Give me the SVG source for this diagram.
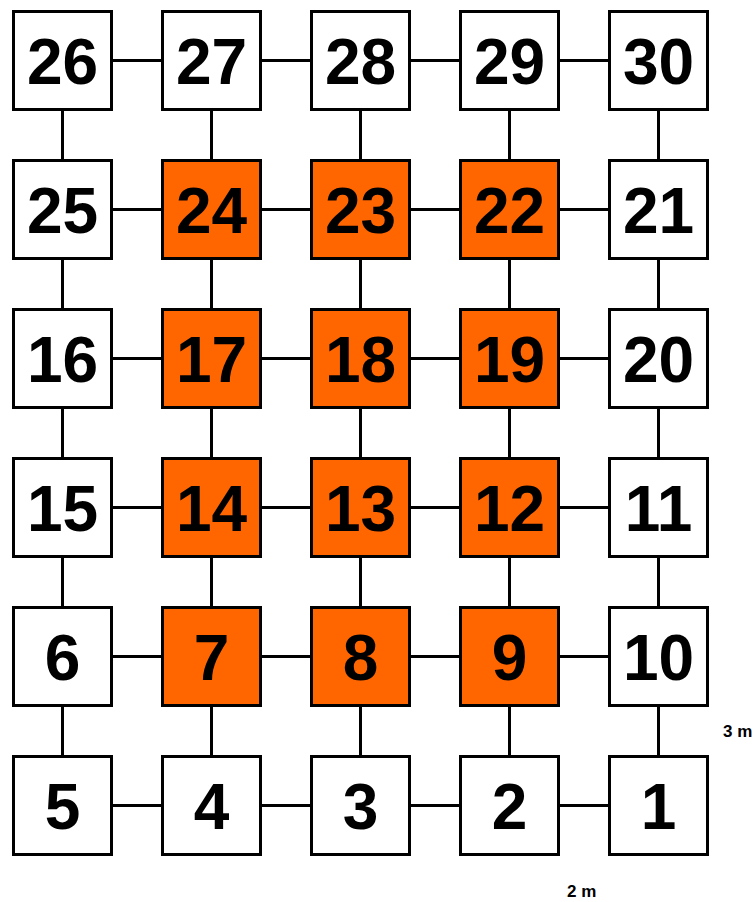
<svg xmlns="http://www.w3.org/2000/svg" width="756" height="902" viewBox="0 0 756 902">
<style>
.b{stroke:#000;stroke-width:3;fill:#fff}
.o{fill:#FF6600}
.t{font-family:"Liberation Sans",Arial,sans-serif;font-weight:bold;font-size:64px;text-anchor:middle;fill:#000}
.s{font-family:"Liberation Sans",Arial,sans-serif;font-weight:bold;font-size:17px;fill:#000}
.c line{stroke:#000;stroke-width:3}
</style>
<rect width="756" height="902" fill="#fff"/>
<g class="c" id="connectors">
<line x1="113" y1="60.5" x2="161" y2="60.5"/><line x1="262" y1="60.5" x2="310" y2="60.5"/><line x1="411" y1="60.5" x2="459" y2="60.5"/><line x1="560" y1="60.5" x2="608" y2="60.5"/>
<line x1="113" y1="209.5" x2="161" y2="209.5"/><line x1="262" y1="209.5" x2="310" y2="209.5"/><line x1="411" y1="209.5" x2="459" y2="209.5"/><line x1="560" y1="209.5" x2="608" y2="209.5"/>
<line x1="113" y1="358.5" x2="161" y2="358.5"/><line x1="262" y1="358.5" x2="310" y2="358.5"/><line x1="411" y1="358.5" x2="459" y2="358.5"/><line x1="560" y1="358.5" x2="608" y2="358.5"/>
<line x1="113" y1="507.5" x2="161" y2="507.5"/><line x1="262" y1="507.5" x2="310" y2="507.5"/><line x1="411" y1="507.5" x2="459" y2="507.5"/><line x1="560" y1="507.5" x2="608" y2="507.5"/>
<line x1="113" y1="656.5" x2="161" y2="656.5"/><line x1="262" y1="656.5" x2="310" y2="656.5"/><line x1="411" y1="656.5" x2="459" y2="656.5"/><line x1="560" y1="656.5" x2="608" y2="656.5"/>
<line x1="113" y1="805.5" x2="161" y2="805.5"/><line x1="262" y1="805.5" x2="310" y2="805.5"/><line x1="411" y1="805.5" x2="459" y2="805.5"/><line x1="560" y1="805.5" x2="608" y2="805.5"/>
<line x1="62.5" y1="111" x2="62.5" y2="159"/><line x1="62.5" y1="260" x2="62.5" y2="308"/><line x1="62.5" y1="409" x2="62.5" y2="457"/><line x1="62.5" y1="558" x2="62.5" y2="606"/><line x1="62.5" y1="707" x2="62.5" y2="755"/>
<line x1="211.5" y1="111" x2="211.5" y2="159"/><line x1="211.5" y1="260" x2="211.5" y2="308"/><line x1="211.5" y1="409" x2="211.5" y2="457"/><line x1="211.5" y1="558" x2="211.5" y2="606"/><line x1="211.5" y1="707" x2="211.5" y2="755"/>
<line x1="360.5" y1="111" x2="360.5" y2="159"/><line x1="360.5" y1="260" x2="360.5" y2="308"/><line x1="360.5" y1="409" x2="360.5" y2="457"/><line x1="360.5" y1="558" x2="360.5" y2="606"/><line x1="360.5" y1="707" x2="360.5" y2="755"/>
<line x1="509.5" y1="111" x2="509.5" y2="159"/><line x1="509.5" y1="260" x2="509.5" y2="308"/><line x1="509.5" y1="409" x2="509.5" y2="457"/><line x1="509.5" y1="558" x2="509.5" y2="606"/><line x1="509.5" y1="707" x2="509.5" y2="755"/>
<line x1="658.5" y1="111" x2="658.5" y2="159"/><line x1="658.5" y1="260" x2="658.5" y2="308"/><line x1="658.5" y1="409" x2="658.5" y2="457"/><line x1="658.5" y1="558" x2="658.5" y2="606"/><line x1="658.5" y1="707" x2="658.5" y2="755"/>
</g>
<g id="n26"><rect class="b" x="13.5" y="11.5" width="98" height="98"/><text class="t" x="62.5" y="83.5">26</text></g>
<g id="n27"><rect class="b" x="162.5" y="11.5" width="98" height="98"/><text class="t" x="211.5" y="83.5">27</text></g>
<g id="n28"><rect class="b" x="311.5" y="11.5" width="98" height="98"/><text class="t" x="360.5" y="83.5">28</text></g>
<g id="n29"><rect class="b" x="460.5" y="11.5" width="98" height="98"/><text class="t" x="509.5" y="83.5">29</text></g>
<g id="n30"><rect class="b" x="609.5" y="11.5" width="98" height="98"/><text class="t" x="658.5" y="83.5">30</text></g>
<g id="n25"><rect class="b" x="13.5" y="160.5" width="98" height="98"/><text class="t" x="62.5" y="232.5">25</text></g>
<g id="n24"><rect class="b o" x="162.5" y="160.5" width="98" height="98"/><text class="t" x="211.5" y="232.5">24</text></g>
<g id="n23"><rect class="b o" x="311.5" y="160.5" width="98" height="98"/><text class="t" x="360.5" y="232.5">23</text></g>
<g id="n22"><rect class="b o" x="460.5" y="160.5" width="98" height="98"/><text class="t" x="509.5" y="232.5">22</text></g>
<g id="n21"><rect class="b" x="609.5" y="160.5" width="98" height="98"/><text class="t" x="658.5" y="232.5">21</text></g>
<g id="n16"><rect class="b" x="13.5" y="309.5" width="98" height="98"/><text class="t" x="62.5" y="381.5">16</text></g>
<g id="n17"><rect class="b o" x="162.5" y="309.5" width="98" height="98"/><text class="t" x="211.5" y="381.5">17</text></g>
<g id="n18"><rect class="b o" x="311.5" y="309.5" width="98" height="98"/><text class="t" x="360.5" y="381.5">18</text></g>
<g id="n19"><rect class="b o" x="460.5" y="309.5" width="98" height="98"/><text class="t" x="509.5" y="381.5">19</text></g>
<g id="n20"><rect class="b" x="609.5" y="309.5" width="98" height="98"/><text class="t" x="658.5" y="381.5">20</text></g>
<g id="n15"><rect class="b" x="13.5" y="458.5" width="98" height="98"/><text class="t" x="62.5" y="530.5">15</text></g>
<g id="n14"><rect class="b o" x="162.5" y="458.5" width="98" height="98"/><text class="t" x="211.5" y="530.5">14</text></g>
<g id="n13"><rect class="b o" x="311.5" y="458.5" width="98" height="98"/><text class="t" x="360.5" y="530.5">13</text></g>
<g id="n12"><rect class="b o" x="460.5" y="458.5" width="98" height="98"/><text class="t" x="509.5" y="530.5">12</text></g>
<g id="n11"><rect class="b" x="609.5" y="458.5" width="98" height="98"/><text class="t" x="658.5" y="530.5">11</text></g>
<g id="n6"><rect class="b" x="13.5" y="607.5" width="98" height="98"/><text class="t" x="62.5" y="679.5">6</text></g>
<g id="n7"><rect class="b o" x="162.5" y="607.5" width="98" height="98"/><text class="t" x="211.5" y="679.5">7</text></g>
<g id="n8"><rect class="b o" x="311.5" y="607.5" width="98" height="98"/><text class="t" x="360.5" y="679.5">8</text></g>
<g id="n9"><rect class="b o" x="460.5" y="607.5" width="98" height="98"/><text class="t" x="509.5" y="679.5">9</text></g>
<g id="n10"><rect class="b" x="609.5" y="607.5" width="98" height="98"/><text class="t" x="658.5" y="679.5">10</text></g>
<g id="n5"><rect class="b" x="13.5" y="756.5" width="98" height="98"/><text class="t" x="62.5" y="828.5">5</text></g>
<g id="n4"><rect class="b" x="162.5" y="756.5" width="98" height="98"/><text class="t" x="211.5" y="828.5">4</text></g>
<g id="n3"><rect class="b" x="311.5" y="756.5" width="98" height="98"/><text class="t" x="360.5" y="828.5">3</text></g>
<g id="n2"><rect class="b" x="460.5" y="756.5" width="98" height="98"/><text class="t" x="509.5" y="828.5">2</text></g>
<g id="n1"><rect class="b" x="609.5" y="756.5" width="98" height="98"/><text class="t" x="658.5" y="828.5">1</text></g>
<g id="labels">
<text class="s" x="723" y="737">3 m</text>
<text class="s" x="567" y="897">2 m</text>
</g>
</svg>
